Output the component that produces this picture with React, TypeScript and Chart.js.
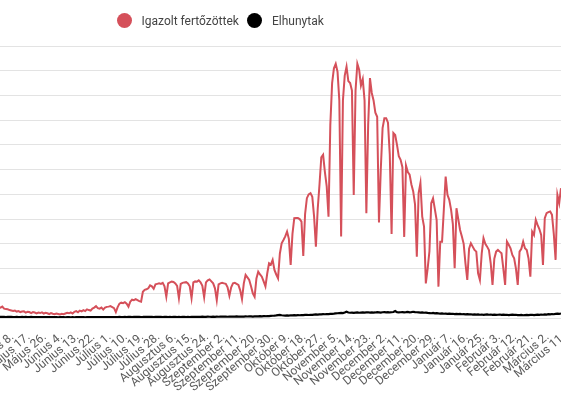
import { useEffect, useRef } from 'react';
import { Chart, registerables } from 'chart.js';

Chart.register(...registerables);

const TICK_LABELS = [
  'Május 8.', 'Május 17.', 'Május 26.', 'Június 4.', 'Június 13.', 'Június 22.',
  'Július 1.', 'Július 10.', 'Július 19.', 'Július 28.', 'Augusztus 6.', 'Augusztus 15.',
  'Augusztus 24.', 'Szeptember 2.', 'Szeptember 11.', 'Szeptember 20.', 'Szeptember 30.',
  'Október 9.', 'Október 18.', 'Október 27.', 'November 5.', 'November 14.', 'November 23.',
  'December 2.', 'December 11.', 'December 20.', 'December 29.', 'Január 7.', 'Január 16.',
  'Január 25.', 'Február 3.', 'Február 12.', 'Február 21.', 'Március 2.', 'Március 11.',
];
const FIRST_TICK_INDEX = 7;
const TICK_EVERY = 9;

const CASES = [
  240, 220, 210, 230, 190, 180, 175,
  160, 150, 140, 150, 130, 140, 120,
  130, 135, 110, 125, 120, 100, 120,
  110, 95, 110, 100, 115, 90, 105,
  95, 80, 100, 85, 75, 90, 80,
  70, 85, 75, 90, 105, 95, 115,
  90, 125, 140, 115, 150, 135, 160,
  140, 175, 160, 150, 190, 210, 240,
  200, 190, 210, 170, 210, 225, 230,
  240, 220, 200, 120, 220, 290, 310,
  300, 320, 290, 230, 330, 370, 360,
  380, 360, 340, 330, 530, 570, 580,
  600, 660, 640, 590, 680, 690, 700,
  690, 710, 640, 430, 700, 720, 735,
  730, 700, 650, 400, 690, 710, 720,
  725, 700, 640, 400, 720, 740, 735,
  760, 720, 650, 420, 720, 760, 780,
  740, 700, 600, 360, 680, 700, 710,
  700, 690, 620, 450, 620, 700, 710,
  690, 668, 560, 380, 700, 870, 820,
  770, 640, 500, 430, 800, 937, 880,
  836, 740, 640, 900, 1107, 1080, 1174,
  972, 880, 803, 1300, 1512, 1579, 1650,
  1747, 1600, 1073, 1700, 2018, 2020, 2020,
  2000, 1950, 1255, 2100, 2423, 2500, 2524,
  2450, 2050, 1443, 2200, 2700, 3250, 3300,
  2950, 2660, 2050, 3900, 4750, 5050, 5140,
  4980, 4400, 1650, 4400, 4900, 5080, 4790,
  4750, 4600, 2490, 4600, 5140, 5020, 4700,
  4830, 4400, 2120, 3900, 4850, 4550, 4400,
  4150, 4070, 1930, 3000, 3840, 4040, 4040,
  3950, 3300, 1700, 3740, 3700, 3500, 3270,
  3200, 3050, 1640, 3080, 2950, 2900, 2700,
  2560, 2300, 1240, 2524, 2726, 2050, 1848,
  700, 1000, 1350, 2320, 2420, 2200, 1980,
  634, 1544, 1544, 2200, 2860, 2490, 2390,
  2190, 1900, 1006, 2220, 2000, 1781, 1646,
  1500, 1100, 769, 1400, 1512, 1443, 1376,
  1342, 905, 769, 1300, 1613, 1500, 1443,
  1376, 1107, 668, 1200, 1342, 1376, 1342,
  1310, 1000, 668, 1544, 1480, 1410, 1275,
  1208, 1000, 668, 1342, 1400, 1544, 1410,
  1376, 1200, 836, 1747, 1680, 1984, 1882,
  1800, 1680, 1073, 2018, 2119, 2140, 2152,
  2085, 1700, 1174, 2490, 2322, 2625,
];

const DEATHS = [
  24, 22, 25, 21, 23, 20, 22,
  21, 23, 20, 19, 22, 20, 18,
  21, 19, 22, 20, 18, 21, 19,
  18, 20, 17, 19, 18, 20, 16,
  18, 17, 19, 16, 18, 17, 15,
  17, 16, 18, 15, 17, 16, 15,
  16, 15, 17, 18, 16, 19, 17,
  15, 18, 16, 19, 17, 20, 18,
  16, 19, 17, 20, 18, 16, 19,
  17, 20, 18, 16, 19, 21, 18,
  20, 22, 19, 21, 23, 20, 22,
  24, 21, 23, 20, 22, 25, 23,
  21, 24, 22, 20, 23, 21, 24,
  22, 20, 23, 21, 19, 22, 20,
  23, 21, 19, 22, 20, 23, 21,
  19, 22, 20, 23, 21, 24, 22,
  25, 23, 26, 22, 24, 27, 25,
  23, 26, 24, 27, 25, 28, 26,
  29, 27, 25, 28, 30, 27, 29,
  31, 28, 30, 27, 29, 32, 30,
  33, 31, 29, 32, 35, 33, 36,
  34, 38, 36, 40, 38, 42, 45,
  48, 52, 58, 62, 55, 50, 48,
  52, 49, 55, 53, 57, 54, 58,
  56, 60, 58, 62, 65, 61, 66,
  64, 68, 72, 70, 75, 73, 78,
  76, 80, 78, 82, 85, 88, 92,
  96, 100, 104, 98, 110, 128, 112,
  106, 110, 104, 108, 112, 106, 110,
  114, 108, 112, 116, 110, 114, 108,
  112, 118, 114, 110, 116, 120, 114,
  118, 112, 116, 122, 140, 118, 112,
  116, 120, 114, 118, 124, 116, 120,
  126, 120, 116, 112, 108, 114, 106,
  110, 104, 100, 96, 102, 94, 98,
  92, 88, 94, 86, 90, 84, 88,
  82, 86, 80, 84, 78, 82, 76,
  80, 74, 78, 72, 76, 70, 74,
  68, 72, 66, 70, 64, 68, 72,
  66, 70, 64, 68, 62, 66, 70,
  64, 68, 62, 66, 60, 64, 68,
  62, 66, 60, 58, 62, 56, 60,
  64, 58, 62, 66, 60, 64, 68,
  62, 70, 66, 74, 70, 78, 72,
  80, 76, 84, 88, 82, 92,
];

const Y_MAX = 5500;
const Y_STEP = 500;

const CASES_COLOR = '#d5505a';
const DEATHS_COLOR = '#000000';

// layout (page pixels)
const SHIFT_LEFT = 100;
const PLOT_LEFT = -3.1;
const PLOT_RIGHT = 561;
const PLOT_TOP = 46;
const PLOT_BOTTOM = 318;
const PAGE_W = 575;
const PAGE_H = 417;
const CANVAS_W = SHIFT_LEFT + PLOT_RIGHT;

export default function App() {
  const ref = useRef<HTMLCanvasElement | null>(null);

  useEffect(() => {
    if (!ref.current) return;
    const categories = CASES.map((_, i) =>
      i >= FIRST_TICK_INDEX && (i - FIRST_TICK_INDEX) % TICK_EVERY === 0
        ? TICK_LABELS[(i - FIRST_TICK_INDEX) / TICK_EVERY] ?? ''
        : ''
    );
    const chart = new Chart(ref.current, {
      type: 'line',
      data: {
        labels: categories,
        datasets: [
          {
            label: 'Igazolt fertőzöttek',
            data: CASES,
            borderColor: CASES_COLOR,
            backgroundColor: CASES_COLOR,
            borderWidth: 2,
            pointRadius: 0,
            tension: 0,
            fill: false,
          },
          {
            label: 'Elhunytak',
            data: DEATHS,
            borderColor: DEATHS_COLOR,
            backgroundColor: DEATHS_COLOR,
            borderWidth: 2.2,
            pointRadius: 0,
            tension: 0,
            fill: false,
          },
        ],
      },
      options: {
        responsive: false,
        animation: false,
        layout: { padding: { top: PLOT_TOP, left: 0, right: 0, bottom: 0 } },
        plugins: {
          legend: { display: false },
          tooltip: { enabled: false },
        },
        scales: {
          x: {
            type: 'category',
            offset: false,
            grid: { display: false, drawTicks: false },
            border: { display: false },
            ticks: {
              autoSkip: false,
              minRotation: 40,
              maxRotation: 40,
              padding: 12,
              labelOffset: 3,
              color: '#5a5a5a',
              font: { family: 'Roboto', size: 12 },
            },
            afterFit: (s: any) => {
              s.paddingLeft = 0;
              s.paddingRight = 0;
              s.height = PAGE_H - PLOT_BOTTOM;
            },
          },
          y: {
            min: 0,
            max: Y_MAX,
            ticks: { display: false, stepSize: Y_STEP },
            grid: { color: '#e3e3e3', lineWidth: 1, drawTicks: false },
            border: { display: false },
            afterFit: (s: any) => {
              s.width = SHIFT_LEFT + PLOT_LEFT;
              s.paddingTop = 0;
              s.paddingBottom = 0;
            },
          },
        },
      },
    });
    return () => chart.destroy();
  }, []);

  const legendText: any = {
    position: 'absolute',
    top: 13,
    fontFamily: 'Roboto',
    fontSize: 12,
    lineHeight: '16px',
    color: '#444',
    whiteSpace: 'nowrap',
  };
  const dot = (left: number, color: string): any => ({
    position: 'absolute',
    left,
    top: 13.3,
    width: 15,
    height: 15,
    borderRadius: '50%',
    background: color,
  });

  return (
    <div
      style={{
        position: 'fixed',
        left: 0,
        top: 0,
        width: PAGE_W,
        height: PAGE_H,
        overflow: 'hidden',
        background: '#fff',
      }}
    >
      <canvas
        ref={ref}
        width={CANVAS_W}
        height={PAGE_H}
        style={{ position: 'absolute', left: -SHIFT_LEFT, top: 0 }}
      />
      <div style={dot(116.5, CASES_COLOR)} />
      <div style={{ ...legendText, left: 141.5 }}>Igazolt fertőzöttek</div>
      <div style={dot(247, DEATHS_COLOR)} />
      <div style={{ ...legendText, left: 272 }}>Elhunytak</div>
    </div>
  );
}
